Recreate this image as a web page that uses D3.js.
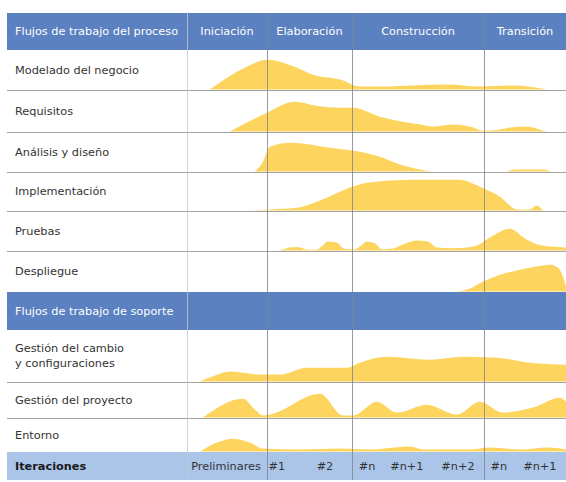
<!DOCTYPE html>
<html>
<head>
<meta charset="utf-8">
<script src="https://d3js.org/d3.v7.min.js"></script>
<style>
  body { margin: 0; background: #fff; }
  svg text { font-family: "DejaVu Sans", sans-serif; font-size: 11.3px; }
</style>
</head>
<body>
<svg id="chart" width="566" height="482"></svg>
<script>
// phases and iterations (time runs 0..100 across the chart)
var phases = ["Iniciación", "Elaboración", "Construcción", "Transición"];
var phaseBounds = [0, 21.1, 43.5, 78.4, 100];
var iterations = ["Preliminares", "#1", "#2", "#n", "#n+1", "#n+2", "#n", "#n+1"];
var iterationAt = [10.3, 23.7, 36.4, 47.5, 58, 71.5, 82.3, 93.1];

var processTitle = "Flujos de trabajo del proceso";
var supportTitle = "Flujos de trabajo de soporte";
var footerTitle = "Iteraciones";

var processFlows = ["Modelado del negocio", "Requisitos", "Análisis y diseño", "Implementación", "Pruebas", "Despliegue"];
var supportFlows = ["Gestión del cambio\ny configuraciones", "Gestión del proyecto", "Entorno"];

// effort per workflow: [time, intensity 0..100]
var modelado = [[6,0],[11,39],[15.8,69],[21.1,90],[24.5,84],[29,66],[33.2,45],[40.4,30],[45.6,9],[52,9],[59.6,12],[68.6,15],[77.3,9],[86,12],[95,0]];
var requisitos = [[11.3,0],[15.8,27],[21.1,57],[28.5,90],[34,78],[40.4,72],[43.8,72],[50.9,45],[61.5,21],[64.9,15],[70.2,21],[75.5,12],[78.1,2],[82.6,6],[85.2,12],[89.7,15],[93.9,3],[95,0]];
var analisis = [[17.9,0],[19.8,24],[21.9,75],[27.2,87],[37.7,72],[45.6,60],[50.9,45],[56.2,21],[61.5,6],[64.9,0],[83.9,0],[86.5,6],[94.5,6],[95.8,0]];
var implementacion = [[15.8,0],[21.9,3],[29,8],[35.1,30],[42.2,66],[47.5,84],[59.6,93],[72,93],[77.3,72],[82.6,42],[87.1,3],[90.5,3],[92.3,15],[93.9,0]];
var pruebas = [[24,0],[25.5,4],[27.4,10],[29.5,10],[31.5,3],[34,2],[35.5,12],[37.2,27],[39.5,24],[41.5,5],[44,3],[45.8,14],[47.5,27],[49.5,22],[51.5,4],[54,5],[57,18],[60.5,30],[63.5,27],[66,9],[70,7],[74,9],[77,18],[80,40],[85.2,66],[89,38],[92.5,18],[96,12],[100,9]];
var despliegue = [[71.2,0],[74.7,9],[78.1,30],[82.6,51],[86.8,63],[91.8,75],[95.8,81],[97.9,72],[99.2,45],[100,15]];
var gestionCambio = [[3.4,0],[7.4,18],[11.3,30],[19.3,21],[24.5,21],[31.7,42],[42.2,42],[45.6,57],[52.8,75],[64.1,66],[72.8,75],[81.8,72],[90.5,57],[100,51]];
var gestionProyecto = [[4.2,0],[14.8,57],[17.9,24],[20,6],[21.9,9],[35.1,72],[41.2,6],[43.8,6],[50.1,48],[55.4,15],[63.3,39],[71.2,9],[77.3,48],[83.4,15],[91.3,30],[98.4,60],[100,48]];
var entorno = [[3.4,0],[7.9,27],[12.1,39],[16.6,27],[20,9],[29.8,6],[40.4,9],[48.3,6],[54.9,12],[58.8,15],[62.3,6],[74.7,6],[79.9,12],[87.9,6],[95.3,12],[100,6]];

var processSeries = [modelado, requisitos, analisis, implementacion, pruebas, despliegue];
var supportSeries = [gestionCambio, gestionProyecto, entorno];

// layout
var left = 7, right = 566, labelRight = 187, textX = 15;
var edges = [13, 50, 90, 132, 172, 211, 251, 292, 330, 382, 418, 452, 480];
var blue = "#5b81c1", lightBlue = "#abc5e9", yellow = "#fdd45e", grid = "#a3a3a3";

var svg = d3.select("#chart");
var x = d3.scaleLinear().domain([0, 100]).range([labelRight, right]);
var h = d3.scaleLinear().domain([0, 100]).range([0, 33]);

var rows = [];
processFlows.forEach(function(name, i) {
  rows.push({ name: name, data: processSeries[i], top: edges[1 + i], bottom: edges[2 + i] });
});
supportFlows.forEach(function(name, i) {
  rows.push({ name: name, data: supportSeries[i], top: edges[8 + i], bottom: edges[9 + i] });
});

// bands
svg.append("rect").attr("x", left).attr("y", edges[0]).attr("width", right - left).attr("height", edges[1] - edges[0]).attr("fill", blue);
svg.append("rect").attr("x", left).attr("y", edges[7]).attr("width", right - left).attr("height", edges[8] - edges[7]).attr("fill", blue);
svg.append("rect").attr("x", left).attr("y", edges[11]).attr("width", right - left).attr("height", edges[12] - edges[11]).attr("fill", lightBlue);

// humps
var g = svg.selectAll("g.row").data(rows).enter().append("g").attr("class", "row");
g.append("path")
  .attr("fill", yellow)
  .attr("d", function(r) {
    return d3.area()
      .curve(d3.curveMonotoneX)
      .x(function(d) { return x(d[0]); })
      .y0(r.bottom - 0.5)
      .y1(function(d) { return r.bottom - 0.5 - h(d[1]); })(r.data);
  });

// row separators
var seps = [2, 3, 4, 5, 6, 9, 10];
svg.selectAll("line.sep").data(seps).enter().append("line")
  .attr("x1", left).attr("x2", right)
  .attr("y1", function(i) { return edges[i] + 0.5; }).attr("y2", function(i) { return edges[i] + 0.5; })
  .attr("stroke", grid).attr("stroke-width", 1);

// column dividers
var cols = [0, 1, 2, 3];
svg.selectAll("line.col").data(cols).enter().append("line")
  .attr("x1", function(i) { return Math.round(x(phaseBounds[i])) + 0.5; })
  .attr("x2", function(i) { return Math.round(x(phaseBounds[i])) + 0.5; })
  .attr("y1", edges[0]).attr("y2", edges[12])
  .attr("stroke", function(i) { return i === 0 ? "#c4c8d0" : "#7d828c"; })
  .attr("stroke-opacity", 0.8);

// labels
g.each(function(r) {
  var lines = r.name.split("\n");
  var mid = (r.top + r.bottom) / 2;
  var t = d3.select(this).append("text").attr("fill", "#333")
    .attr("x", textX).attr("y", mid - (lines.length - 1) * 7.5);
  lines.forEach(function(l, k) {
    t.append("tspan").attr("x", textX).attr("dy", k === 0 ? "0.35em" : "15").text(l);
  });
});

svg.append("text").attr("x", textX).attr("y", (edges[0] + edges[1]) / 2).attr("dy", "0.35em")
  .attr("fill", "#fff").text(processTitle);
svg.append("text").attr("x", textX).attr("y", (edges[7] + edges[8]) / 2).attr("dy", "0.35em")
  .attr("fill", "#fff").text(supportTitle);
svg.selectAll("text.phase").data(phases).enter().append("text")
  .attr("x", function(d, i) { return (x(phaseBounds[i]) + x(phaseBounds[i + 1])) / 2; })
  .attr("y", (edges[0] + edges[1]) / 2).attr("dy", "0.35em")
  .attr("text-anchor", "middle").attr("fill", "#fff").text(function(d) { return d; });

svg.append("text").attr("x", textX).attr("y", (edges[11] + edges[12]) / 2).attr("dy", "0.35em")
  .attr("fill", "#1a1a1a").attr("font-weight", 600).text(footerTitle);
svg.selectAll("text.iter").data(iterations).enter().append("text")
  .attr("x", function(d, i) { return x(iterationAt[i]); })
  .attr("y", (edges[11] + edges[12]) / 2).attr("dy", "0.35em")
  .attr("text-anchor", "middle").attr("fill", "#333").text(function(d) { return d; });
</script>
</body>
</html>
